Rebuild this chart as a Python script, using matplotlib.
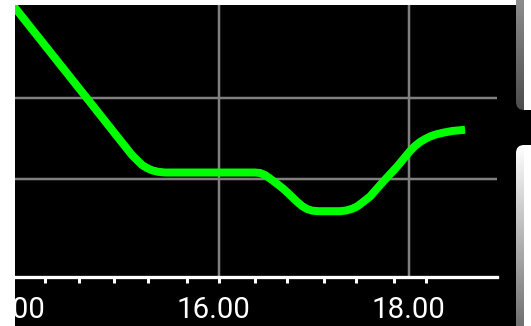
import numpy as np
import matplotlib
matplotlib.use("Agg")
import matplotlib.pyplot as plt
import matplotlib.transforms as mtransforms
from matplotlib.patches import Rectangle, FancyBboxPatch

# Datos (horas / valor)
hours = [13.75, 14.611, 14.961, 15.087, 15.140, 15.193, 15.245, 15.298, 15.361,
         15.435, 16.382, 16.435, 16.487, 16.540, 16.603, 16.677, 16.751, 16.824,
         16.877, 16.930, 16.982, 17.045, 17.277, 17.340, 17.403, 17.456, 17.519,
         17.593, 17.730, 17.877, 18.014, 18.066, 18.119, 18.172, 18.224, 18.287,
         18.361, 18.456, 18.593]
values = [24.54, 22.0, 20.963, 20.593, 20.469, 20.346, 20.272, 20.215, 20.178,
          20.160, 20.160, 20.148, 20.099, 20.012, 19.901, 19.765, 19.605, 19.440,
          19.333, 19.259, 19.220, 19.205, 19.205, 19.222, 19.264, 19.321, 19.432,
          19.568, 19.933, 20.304, 20.691, 20.815, 20.914, 20.988, 21.049, 21.101,
          21.143, 21.185, 21.217]

tick_hours = [14.172, 14.533, 14.901, 15.259, 15.663, 16.0, 16.385, 16.722,
              17.112, 17.448, 17.848, 18.179]
label_hours = [13.79, 15.94, 18.0]
label_texts = ["14.00", "16.00", "18.00"]
grid_hours = [16, 18]
grid_values = [20, 22]

W, H = 531, 326
PT = 0.72  # px -> pt a 100 dpi

fig = plt.figure(figsize=(W / 100, H / 100), dpi=100)
fig.patch.set_facecolor("white")

# Fondo negro y tarjetas de la derecha
bg = fig.add_axes([0, 0, 1, 1])
bg.axis("off")
black = Rectangle((15, 5), W - 15, H - 5, facecolor="black", edgecolor="none")
bg.add_patch(black)


def card(y0, y1, top, bottom):
    n = 200
    g = np.linspace(0, 1, n)[:, None]
    strip = np.array(top) * (1 - g) + np.array(bottom) * g
    img = np.ones((n, 20, 3))
    img[:, :8, :] = strip[:, None, :]
    im = bg.imshow(img, extent=(516, 536, y1, y0), aspect="auto", zorder=2,
                   interpolation="bilinear")
    clip = FancyBboxPatch((516, y0), 40, y1 - y0,
                          boxstyle="round,pad=0,rounding_size=8",
                          facecolor="none", edgecolor="none",
                          transform=bg.transData)
    bg.add_patch(clip)
    im.set_clip_path(clip)


card(-30, 110, (0.62, 0.62, 0.62), (0.30, 0.30, 0.30))
card(145, 360, (1.0, 1.0, 1.0), (0.33, 0.33, 0.33))
bg.set_xlim(0, W)
bg.set_ylim(H, 0)

# Ejes principales
ax = fig.add_axes([15 / W, (H - 276.7) / H, (497 - 15) / W, (276.7 - 5) / H])
ax.set_facecolor("black")
ax.set_xlim(13.856, 18.929)
ax.set_ylim(17.588, 24.296)

for h in grid_hours:
    ax.axvline(h, color="#808080", lw=2.5 * PT, zorder=1)
for v in grid_values:
    ax.axhline(v, color="#808080", lw=2.5 * PT, zorder=1)

ax.plot(hours, values, color="#00ff00", lw=8 * PT,
        solid_capstyle="butt", solid_joinstyle="round", zorder=3)

for s in ["top", "left", "right"]:
    ax.spines[s].set_visible(False)
ax.spines["bottom"].set_color("white")
ax.spines["bottom"].set_linewidth(3.3 * PT)
ax.spines["bottom"].set_zorder(4)

ax.set_xticks(tick_hours)
ax.set_xticklabels([])
ax.set_yticks([])
ax.tick_params(axis="x", direction="out", length=6 * PT, width=3 * PT,
               color="white")

trans = mtransforms.blended_transform_factory(ax.transData, fig.transFigure)
for h, t in zip(label_hours, label_texts):
    txt = fig.text(h, (H - 317.7) / H, t, transform=trans, ha="center",
                   va="baseline", color="white", fontsize=21.2,
                   family=["Roboto", "DejaVu Sans"])
    txt.set_clip_on(True)
    txt.set_clip_path(black)

fig.savefig("out.png", dpi=100, facecolor=fig.get_facecolor())
